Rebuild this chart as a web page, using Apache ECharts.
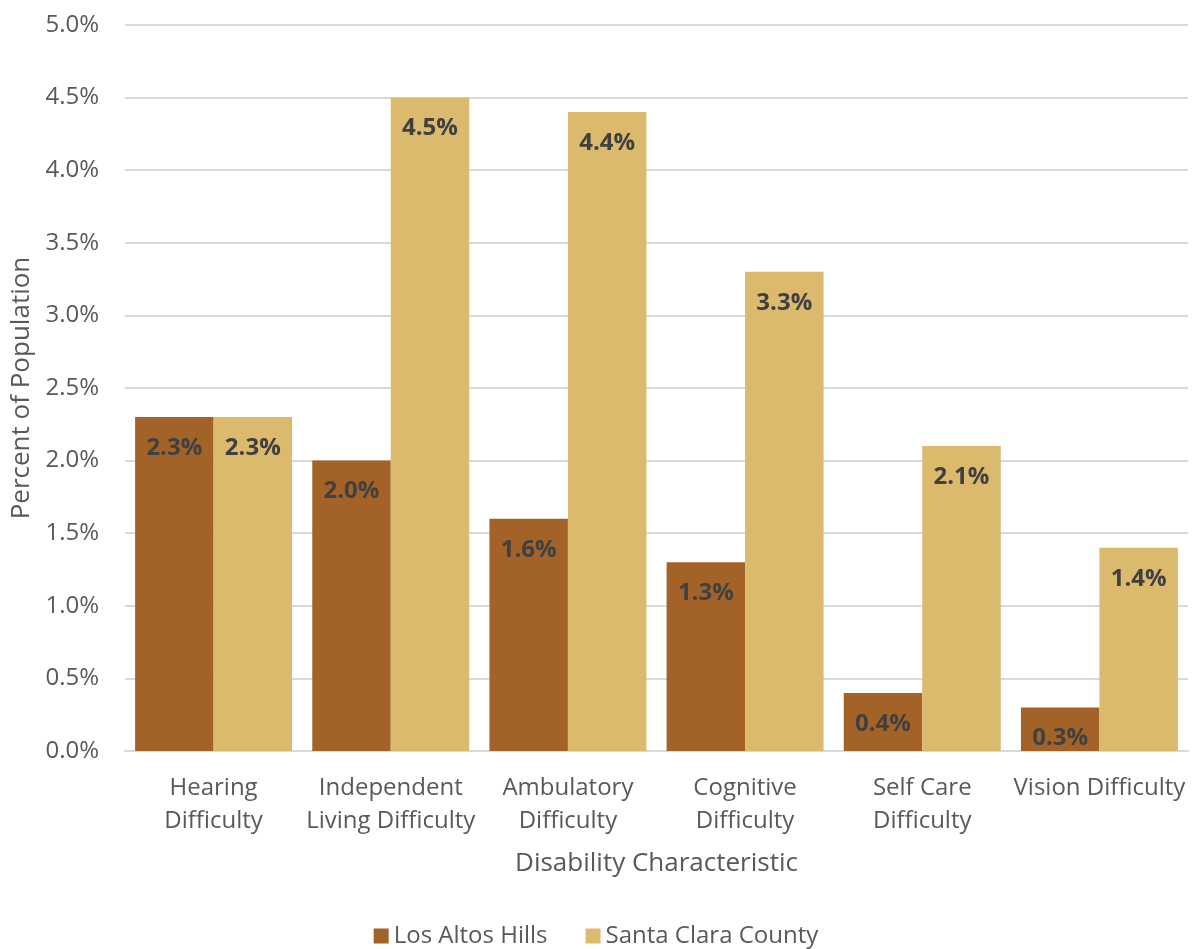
<!DOCTYPE html>
<html>
<head>
    <meta charset="utf-8">
    <title>Disability Characteristic</title>
    <script src="https://cdn.jsdelivr.net/npm/echarts@6/dist/echarts.min.js"></script>
    <style>
        html,body{
            height: 100%;
            margin: 0;
            padding: 0;
            background: #fff;
        }
    </style>
</head>
<body>
    <div id="main" style="width: 1192px;height:949px;"></div>
    <script type="text/javascript">
    var categories = ['Hearing\nDifficulty', 'Independent\nLiving Difficulty', 'Ambulatory\nDifficulty',
        'Cognitive\nDifficulty', 'Self Care\nDifficulty', 'Vision Difficulty'];
    var losAltosHills = [2.3, 2.0, 1.6, 1.3, 0.4, 0.3];
    var santaClara = [2.3, 4.5, 4.4, 3.3, 2.1, 1.4];

    var font = '"Open Sans", "Noto Sans", sans-serif';
    var labelStyle = {
        show: true,
        position: 'insideTop',
        distance: 19,
        fontFamily: font,
        fontSize: 24,
        fontWeight: 'bold',
        color: '#404040',
        formatter: function (p) { return p.value.toFixed(1) + '%'; }
    };

    var myChart = echarts.init(document.getElementById('main'));

    var option = {
        animation: false,
        textStyle: { fontFamily: font },
        grid: {
            left: 125,
            right: 4,
            top: 25,
            bottom: 198,
            outerBoundsMode: 'none'
        },
        legend: {
            bottom: -4,
            left: 'center',
            itemWidth: 15,
            itemHeight: 15,
            itemGap: 38,
            icon: 'rect',
            textStyle: { fontFamily: font, fontSize: 24, color: '#595959' },
            data: ['Los Altos Hills', 'Santa Clara County']
        },
        xAxis: {
            type: 'category',
            data: categories,
            name: 'Disability Characteristic',
            nameLocation: 'middle',
            nameGap: 100,
            nameTextStyle: { fontFamily: font, fontSize: 26, color: '#595959' },
            axisLine: { lineStyle: { color: '#d9d9d9', width: 2 } },
            axisTick: { show: false },
            axisLabel: {
                fontFamily: font,
                fontSize: 24,
                color: '#595959',
                lineHeight: 33,
                margin: 21,
                interval: 0
            }
        },
        yAxis: {
            type: 'value',
            min: 0,
            max: 5,
            interval: 0.5,
            name: 'Percent of Population',
            nameLocation: 'middle',
            nameGap: 90,
            nameTextStyle: { fontFamily: font, fontSize: 26, color: '#595959' },
            axisLine: { show: false },
            axisTick: { show: false },
            splitLine: { lineStyle: { color: '#d9d9d9', width: 2 } },
            axisLabel: {
                fontFamily: font,
                fontSize: 24,
                color: '#595959',
                margin: 26,
                formatter: function (v) { return v.toFixed(1) + '%'; }
            }
        },
        series: [
            {
                name: 'Los Altos Hills',
                type: 'bar',
                barGap: '0%',
                barCategoryGap: '11.4%',
                itemStyle: { color: '#a36328' },
                label: labelStyle,
                data: losAltosHills
            },
            {
                name: 'Santa Clara County',
                type: 'bar',
                itemStyle: { color: '#dbb96d' },
                label: labelStyle,
                data: santaClara
            }
        ]
    };

    myChart.setOption(option);
    </script>
</body>
</html>
